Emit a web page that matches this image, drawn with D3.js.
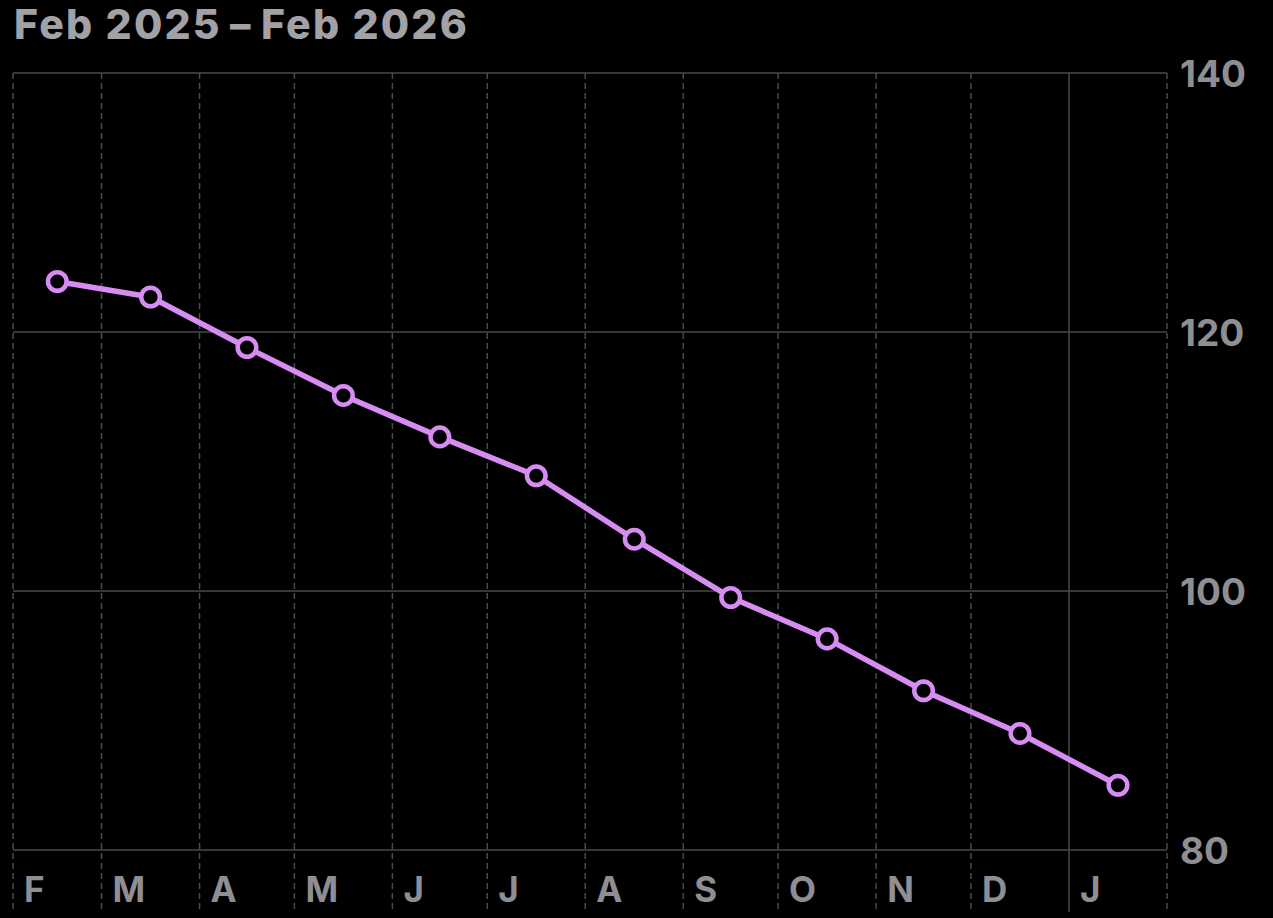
<!DOCTYPE html>
<html><head><meta charset="utf-8">
<script src="https://cdn.jsdelivr.net/npm/d3@7"></script>
<style>
html,body{margin:0;padding:0;background:#000;}
svg{display:block;}
text{font-family:Inter,"Noto Sans",sans-serif;}
</style></head>
<body>
<svg id="c" width="1273" height="918"></svg>
<script>
const title = "Feb 2025\u2009\u2013\u2009Feb 2026";
const monthStarts = ["2025-02-01","2025-03-01","2025-04-01","2025-05-01","2025-06-01","2025-07-01","2025-08-01","2025-09-01","2025-10-01","2025-11-01","2025-12-01","2026-01-01","2026-02-01"];
const monthLabels = ["F","M","A","M","J","J","A","S","O","N","D","J"];
const values = [123.9,122.7,118.8,115.1,111.9,108.9,104.0,99.5,96.3,92.3,89.0,85.0];
const yTicks = [80,100,120,140];

(function(){
const svg = d3.select("#c");
const W=1273,H=918;
svg.append("rect").attr("width",W).attr("height",H).attr("fill","#000");
const mLeft=13, mRight=1167, mTop=73, mBottom=850;
const parse = d3.utcParse("%Y-%m-%d");
const dates = monthStarts.map(parse);
const x = d3.scaleUtc().domain([dates[0], dates[dates.length-1]]).range([mLeft,mRight]);
const y = d3.scaleLinear().domain([80,140]).range([mBottom,mTop]);
const grid="#4a4a4c";

svg.append("g").selectAll("line").data(yTicks).join("line")
  .attr("x1",mLeft).attr("x2",mRight).attr("y1",d=>y(d)).attr("y2",d=>y(d))
  .attr("stroke",grid).attr("stroke-width",1.5);

svg.append("g").selectAll("line").data(dates).join("line")
  .attr("x1",d=>x(d)).attr("x2",d=>x(d)).attr("y1",mTop).attr("y2",912)
  .attr("stroke",grid).attr("stroke-width",1.5)
  .attr("stroke-dasharray",d=>d.getUTCMonth()===0?null:"6,4");

const yAxis = d3.axisRight(y).tickValues(yTicks).tickSize(0).tickPadding(13);
const ya = svg.append("g").attr("transform",`translate(${mRight},0)`).call(yAxis);
ya.select(".domain").remove();
ya.selectAll("text").attr("fill","#8e8e93").attr("font-size",37).attr("font-weight",700)
  .attr("dy","0.36em")
  .attr("font-family","Inter,'Noto Sans',sans-serif");

svg.append("g").selectAll("text").data(monthLabels).join("text")
  .attr("x",(d,i)=>x(dates[i])+11).attr("y",902)
  .attr("fill","#8e8e93").attr("font-size",35).attr("font-weight",700)
  .text(d=>d);

svg.append("text").attr("x",14).attr("y",39).attr("fill","#a1a1a6")
  .attr("font-size",41).attr("font-weight",800).attr("letter-spacing",2.2).text(title);

const pts = values.map((v,i)=>({x:(x(dates[i])+x(dates[i+1]))/2, v}));
const color="#d78cf2";
svg.append("path").datum(pts)
  .attr("d",d3.line().x(d=>d.x).y(d=>y(d.v)))
  .attr("fill","none").attr("stroke",color).attr("stroke-width",5.5).attr("stroke-linejoin","round");
svg.append("g").selectAll("circle").data(pts).join("circle")
  .attr("cx",d=>d.x).attr("cy",d=>y(d.v)).attr("r",9.3)
  .attr("fill","#000").attr("stroke",color).attr("stroke-width",4.5);
})();
</script>
</body></html>
